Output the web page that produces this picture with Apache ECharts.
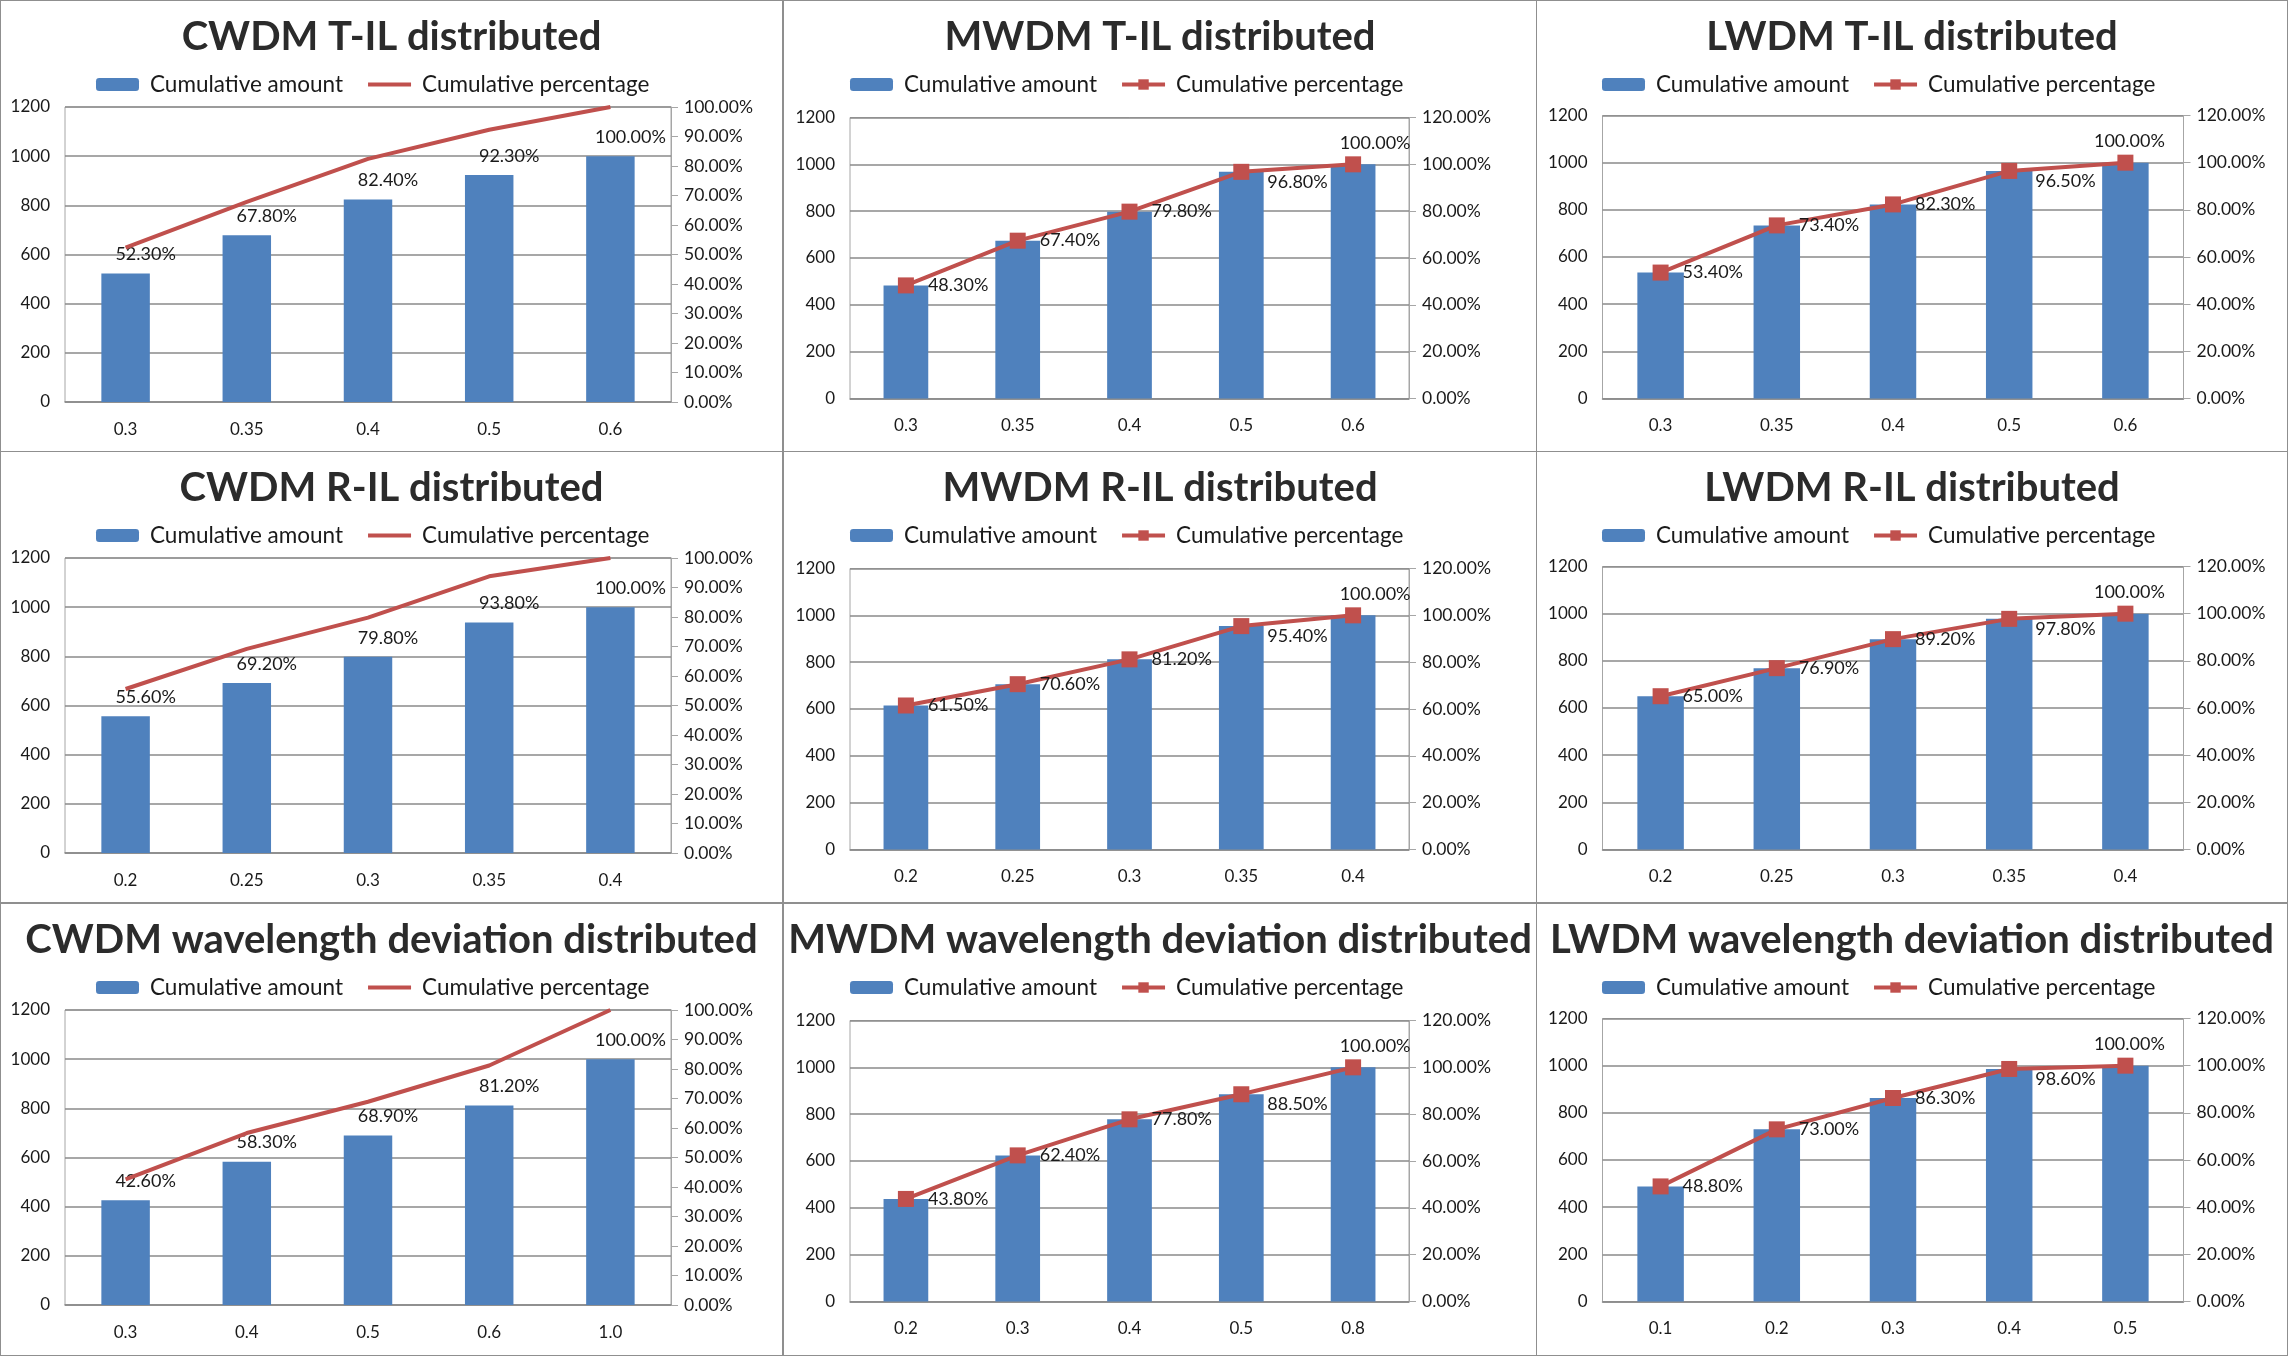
<!DOCTYPE html>
<html><head><meta charset="utf-8">
<script src="https://cdn.jsdelivr.net/npm/echarts/dist/echarts.min.js"></script>
<style>
html,body{margin:0;padding:0;background:#fff;width:2288px;height:1356px;overflow:hidden;}
.p{position:absolute;outline:1.5px solid #8f8f8f;outline-offset:-1.5px;}
</style></head><body>
<div id="c0" class="p"></div><div id="c1" class="p"></div><div id="c2" class="p"></div>
<div id="c3" class="p"></div><div id="c4" class="p"></div><div id="c5" class="p"></div>
<div id="c6" class="p"></div><div id="c7" class="p"></div><div id="c8" class="p"></div>
<script>
// ---------- data ----------
const seriesNames = ['Cumulative amount', 'Cumulative percentage'];

const cwdmTIL_title = 'CWDM T-IL distributed';
const cwdmTIL_cats = ['0.3', '0.35', '0.4', '0.5', '0.6'];
const cwdmTIL_amount = [523, 678, 824, 923, 1000];
const cwdmTIL_pct = [52.3, 67.8, 82.4, 92.3, 100.0];

const mwdmTIL_title = 'MWDM T-IL distributed';
const mwdmTIL_cats = ['0.3', '0.35', '0.4', '0.5', '0.6'];
const mwdmTIL_amount = [483, 674, 798, 968, 1000];
const mwdmTIL_pct = [48.3, 67.4, 79.8, 96.8, 100.0];

const lwdmTIL_title = 'LWDM T-IL distributed';
const lwdmTIL_cats = ['0.3', '0.35', '0.4', '0.5', '0.6'];
const lwdmTIL_amount = [534, 734, 823, 965, 1000];
const lwdmTIL_pct = [53.4, 73.4, 82.3, 96.5, 100.0];

const cwdmRIL_title = 'CWDM R-IL distributed';
const cwdmRIL_cats = ['0.2', '0.25', '0.3', '0.35', '0.4'];
const cwdmRIL_amount = [556, 692, 798, 938, 1000];
const cwdmRIL_pct = [55.6, 69.2, 79.8, 93.8, 100.0];

const mwdmRIL_title = 'MWDM R-IL distributed';
const mwdmRIL_cats = ['0.2', '0.25', '0.3', '0.35', '0.4'];
const mwdmRIL_amount = [615, 706, 812, 954, 1000];
const mwdmRIL_pct = [61.5, 70.6, 81.2, 95.4, 100.0];

const lwdmRIL_title = 'LWDM R-IL distributed';
const lwdmRIL_cats = ['0.2', '0.25', '0.3', '0.35', '0.4'];
const lwdmRIL_amount = [650, 769, 892, 978, 1000];
const lwdmRIL_pct = [65.0, 76.9, 89.2, 97.8, 100.0];

const cwdmWL_title = 'CWDM wavelength deviation distributed';
const cwdmWL_cats = ['0.3', '0.4', '0.5', '0.6', '1.0'];
const cwdmWL_amount = [426, 583, 689, 812, 1000];
const cwdmWL_pct = [42.6, 58.3, 68.9, 81.2, 100.0];

const mwdmWL_title = 'MWDM wavelength deviation distributed';
const mwdmWL_cats = ['0.2', '0.3', '0.4', '0.5', '0.8'];
const mwdmWL_amount = [438, 624, 778, 885, 1000];
const mwdmWL_pct = [43.8, 62.4, 77.8, 88.5, 100.0];

const lwdmWL_title = 'LWDM wavelength deviation distributed';
const lwdmWL_cats = ['0.1', '0.2', '0.3', '0.4', '0.5'];
const lwdmWL_amount = [488, 730, 863, 986, 1000];
const lwdmWL_pct = [48.8, 73.0, 86.3, 98.6, 100.0];

// ---------- layout ----------
const FONT = 'Lato';
const BLUE = '#4F81BD', RED = '#C0504D', TXT = '#1a1a1a';
const cols = [
  {x: 0, w: 783, gl: 65, gw: 606, gt: 107, gh: 295, lg: 96, pctMax: 100, pctInt: 10, style: 'c', topDx: 0},
  {x: 783, w: 754, gl: 67, gw: 559, gt: 117.5, gh: 281, lg: 67, pctMax: 120, pctInt: 20, style: 'm', topDx: 22},
  {x: 1536, w: 752, gl: 66.5, gw: 581, gt: 115.5, gh: 283, lg: 66, pctMax: 120, pctInt: 20, style: 'm', topDx: 4}
];
const rows = [{y: 0, h: 452, ts: 40}, {y: 451, h: 452, ts: 40}, {y: 903, h: 453, ts: 40}];

const panels = [
  [cwdmTIL_title, cwdmTIL_cats, cwdmTIL_amount, cwdmTIL_pct],
  [mwdmTIL_title, mwdmTIL_cats, mwdmTIL_amount, mwdmTIL_pct],
  [lwdmTIL_title, lwdmTIL_cats, lwdmTIL_amount, lwdmTIL_pct],
  [cwdmRIL_title, cwdmRIL_cats, cwdmRIL_amount, cwdmRIL_pct],
  [mwdmRIL_title, mwdmRIL_cats, mwdmRIL_amount, mwdmRIL_pct],
  [lwdmRIL_title, lwdmRIL_cats, lwdmRIL_amount, lwdmRIL_pct],
  [cwdmWL_title, cwdmWL_cats, cwdmWL_amount, cwdmWL_pct],
  [mwdmWL_title, mwdmWL_cats, mwdmWL_amount, mwdmWL_pct],
  [lwdmWL_title, lwdmWL_cats, lwdmWL_amount, lwdmWL_pct]
];

const fmtPct = v => Number(v).toFixed(2) + '%';

panels.forEach((p, i) => {
  const [title, cats, amount, pct] = p;
  const col = cols[i % 3], row = rows[Math.floor(i / 3)];
  const el = document.getElementById('c' + i);
  el.style.left = col.x + 'px'; el.style.top = row.y + 'px';
  el.style.width = col.w + 'px'; el.style.height = row.h + 'px';
  const chart = echarts.init(el, null, {renderer: 'canvas'});
  const isC = col.style === 'c';
  const lblStyle = {color: TXT, fontFamily: FONT, fontSize: 18};

  const lineData = pct.map((v, k) => {
    if (isC) return v;
    const n = pct.length;
    if (k === n - 1) return {value: v, label: {position: 'top', distance: 4, offset: [col.topDx, 0]}};
    if (k === n - 2) return {value: v, label: {position: 'right', distance: 14, offset: [4, 10]}};
    return v;
  });

  chart.setOption({
    animation: false,
    textStyle: {fontFamily: FONT},
    title: {
      text: title, left: 'center', top: 37.5 - row.ts / 2, padding: 0,
      textStyle: {fontFamily: FONT, fontWeight: 'bold', fontSize: row.ts, color: '#2b2b2b'}
    },
    legend: {
      data: [
        {name: seriesNames[0]},
        isC ? {name: seriesNames[1], itemStyle: {opacity: 0}} : {name: seriesNames[1]}
      ],
      left: col.lg, top: 73, padding: 0,
      itemWidth: 43, itemHeight: 13, itemGap: 23,
      lineStyle: {width: 4},
      textStyle: {fontFamily: FONT, fontSize: 22.5, color: TXT, padding: [0, 0, 0, 6]}
    },
    grid: {left: col.gl, top: col.gt, width: col.gw, height: col.gh,
      show: true, borderColor: '#a6a6a6', borderWidth: 1, containLabel: false, outerBoundsMode: 'none'},
    xAxis: {
      type: 'category', data: cats,
      axisLine: {show: true, lineStyle: {color: '#8c8c8c', width: 1.5}},
      axisTick: {show: false},
      axisLabel: {color: TXT, fontFamily: FONT, fontSize: 17, margin: 19}
    },
    yAxis: [
      {type: 'value', min: 0, max: 1200, interval: 200,
        axisLine: {show: false}, axisTick: {show: false},
        axisLabel: {color: TXT, fontFamily: FONT, fontSize: 17, margin: 15, formatter: v => String(v)},
        splitLine: {show: true, lineStyle: {color: '#8a8a8a', width: 1.5}}},
      {type: 'value', min: 0, max: col.pctMax, interval: col.pctInt, position: 'right',
        axisLine: {show: true, lineStyle: {color: '#a6a6a6', width: 1}},
        axisTick: {show: true, length: 7, inside: false, lineStyle: {color: '#a6a6a6'}},
        axisLabel: {color: TXT, fontFamily: FONT, fontSize: 17.5, margin: 13, formatter: v => fmtPct(v)},
        splitLine: {show: false}}
    ],
    series: [
      {name: seriesNames[0], type: 'bar', data: amount, barWidth: '40%', yAxisIndex: 0,
        itemStyle: {color: BLUE},
        label: isC ? Object.assign({show: true, position: 'top', distance: 10, offset: [20, 0],
          formatter: prm => fmtPct(pct[prm.dataIndex])}, lblStyle) : {show: false}},
      {name: seriesNames[1], type: 'line', data: lineData, yAxisIndex: 1,
        symbol: isC ? 'none' : 'rect', symbolSize: 16, showSymbol: !isC,
        lineStyle: {color: RED, width: 4}, itemStyle: {color: RED},
        label: isC ? {show: false} : Object.assign({show: true, position: 'right', distance: 14,
          formatter: prm => fmtPct(prm.value)}, lblStyle),
        z: 5}
    ]
  });
});
</script>
</body></html>
